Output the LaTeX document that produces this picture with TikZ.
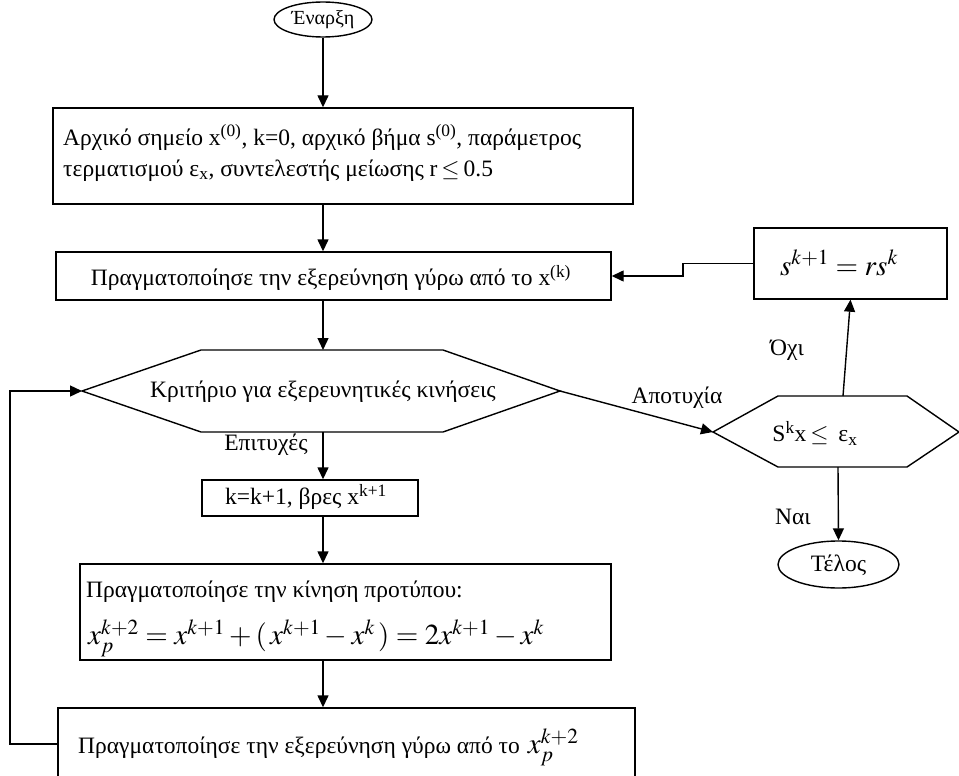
\documentclass[tikz,border=0pt]{standalone}
\usepackage{mathptmx}
\usepackage{fontspec}
\setmainfont{Liberation Serif}
\usetikzlibrary{arrows.meta,shapes.geometric}

\tikzset{
  flow/.style={line width=1.4pt, -{Triangle[length=12pt,width=11pt]}},
  link/.style={line width=1.4pt},
  stepbox/.style={draw, line width=1.4pt, rectangle, inner sep=0pt},
  term/.style={draw, line width=1.4pt, ellipse, inner sep=0pt},
  txt/.style={inner sep=0pt, font=\fontsize{23.5}{31}\selectfont},
  eq/.style={inner sep=0pt, font=\fontsize{29}{31}\selectfont},
}

\begin{document}
\begin{tikzpicture}[x=1pt,y=-1pt]
\useasboundingbox (0,0) rectangle (959,776);

% start / end terminals
\node[term, minimum width=98pt, minimum height=35pt] (start) at (323,19.5) {};
\node[txt, font=\fontsize{20}{24}\selectfont] (startT) at (323,20) {Έναρξη};
\node[term, minimum width=121pt, minimum height=47pt] (stop) at (838.5,564.5) {};
\node[txt] (stopT) at (838.5,565) {Τέλος};

% initialisation
\node[stepbox, minimum width=580pt, minimum height=96pt] (init) at (343,156) {};
\node[txt, anchor=west, align=left] (initT) at (63,153)
  {Αρχικό σημείο x\textsuperscript{(0)}, k=0, αρχικό βήμα s\textsuperscript{(0)}, παράμετρος\\
   τερματισμού ε\textsubscript{x}, συντελεστής μείωσης r\,$\le$\,0.5};

% exploration around x^(k)
\node[stepbox, minimum width=555pt, minimum height=48pt] (explore) at (333.5,276) {};
\node[txt] (exploreT) at (331,278) {Πραγματοποίησε την εξερεύνηση γύρω από το x\textsuperscript{(k)}};

% decision: exploratory moves
\coordinate (h1w) at (82,391);
\coordinate (h1nw) at (201,350);
\coordinate (h1ne) at (443,350);
\coordinate (h1e) at (560,391);
\coordinate (h1se) at (443,432);
\coordinate (h1sw) at (201,432);
\draw[link] (h1w) -- (h1nw) -- (h1ne) -- (h1e) -- (h1se) -- (h1sw) -- cycle;
\node[txt] (crit) at (323,392) {Κριτήριο για εξερευνητικές κινήσεις};

% success: next point
\node[stepbox, minimum width=216pt, minimum height=36pt] (find) at (310,498) {};
\node[txt] (findT) at (306,497) {k=k+1, βρες x\textsuperscript{k+1}};

% pattern move
\node[stepbox, minimum width=531pt, minimum height=96pt] (pattern) at (345.5,612) {};
\node[txt, anchor=west] (patternT) at (86,592) {Πραγματοποίησε την κίνηση προτύπου:};
\node[eq, anchor=west] (patternEq) at (88,638)
  {$x_p^{k+2} = x^{k+1} + (\,x^{k+1} - x^k\,) = 2x^{k+1} - x^k$};

% exploration around x_p^(k+2)
\node[stepbox, minimum width=577pt, minimum height=72pt] (explore2) at (346.5,744) {};
\node[txt, anchor=west] (explore2T) at (78,747)
  {Πραγματοποίησε την εξερεύνηση γύρω από το\hspace{8pt}\fontsize{29}{31}\selectfont$x_p^{k+2}$};

% step-size test
\coordinate (h2w) at (713,432);
\coordinate (h2nw) at (778,396);
\coordinate (h2ne) at (907,396);
\coordinate (h2e) at (959,432);
\coordinate (h2se) at (907,467);
\coordinate (h2sw) at (778,467);
\draw[link] (h2w) -- (h2nw) -- (h2ne) -- (h2e) -- (h2se) -- (h2sw) -- cycle;
\node[txt] (test) at (815,433) {S\textsuperscript{k}x\,$\le$\, ε\textsubscript{x}};

% step reduction
\node[stepbox, minimum width=193pt, minimum height=71pt] (shrink) at (850.5,263.5) {};
\node[eq] (shrinkT) at (839,263) {$s^{k+1} = rs^k$};

% connectors
\coordinate (h2t) at (843,396);
\coordinate (h2b) at (838,467);
\coordinate (jog) at (683,276);
\coordinate (loopc) at (10,391);

\draw[flow] (start.south) -- (start |- init.north);
\draw[flow] (start |- init.south) -- (start |- explore.north);
\draw[flow] (start |- explore.south) -- (start |- h1nw);
\draw[flow] (start |- h1sw) -- (start |- find.north);
\draw[flow] (start |- find.south) -- (start |- pattern.north);
\draw[flow] (start |- pattern.south) -- (start |- explore2.north);
\draw[flow] (explore2.west) -| (loopc) -- (h1w);
\draw[flow] (h1e) -- (h2w);
\draw[flow] (h2t) -- (shrink.south);
\draw[flow] (shrink.west) -| (jog) -- (explore.east);
\draw[flow] (h2b) -- (stop.north);

% branch labels
\node[txt] (fail) at (677,398) {Αποτυχία};
\node[txt] (ok) at (266,445) {Επιτυχές};
\node[txt] (no) at (787,350) {Όχι};
\node[txt] (yes) at (793,517) {Ναι};
\end{tikzpicture}
\end{document}
